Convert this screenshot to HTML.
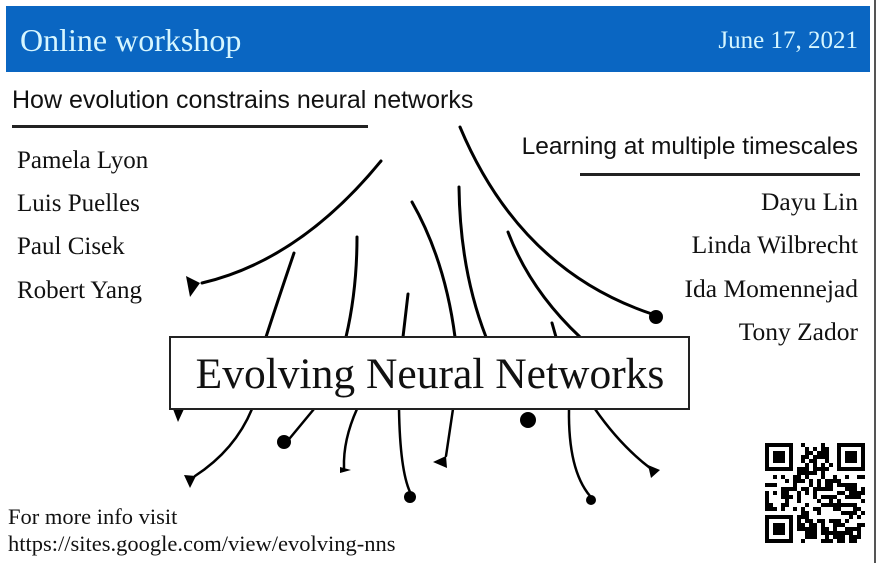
<!DOCTYPE html>
<html><head><meta charset="utf-8"><style>
body{margin:0;width:878px;height:563px;background:#fff;overflow:hidden;position:relative;font-family:"Liberation Serif",serif;}
.t{position:absolute;white-space:nowrap;color:#111;line-height:1;}
.s{font-family:"Liberation Sans",sans-serif;}
</style></head><body>
<div style="position:absolute;left:6px;top:6px;width:864px;height:66px;background:#0a66c2;"></div>
<div class="t" style="left:20px;top:24px;font-size:32px;color:#d6f6ff;">Online workshop</div>
<div class="t" style="right:20px;top:28px;font-size:25px;color:#d6f6ff;">June 17, 2021</div>
<div style="position:absolute;right:2px;top:0;width:2px;height:563px;background:#555;"></div>
<div class="t s" style="left:12px;top:88px;font-size:25px;">How evolution constrains neural networks</div>
<div style="position:absolute;left:12px;top:125px;width:356px;height:3px;background:#222;"></div>
<div class="t" style="left:17px;top:148px;font-size:25px;">Pamela Lyon</div>
<div class="t" style="left:17px;top:191px;font-size:25px;">Luis Puelles</div>
<div class="t" style="left:17px;top:234px;font-size:25px;">Paul Cisek</div>
<div class="t" style="left:17px;top:278px;font-size:25px;">Robert Yang</div>
<div class="t s" style="right:20px;top:135px;font-size:24.5px;">Learning at multiple timescales</div>
<div style="position:absolute;left:580px;top:173px;width:280px;height:3px;background:#222;"></div>
<div class="t" style="right:20px;top:189px;font-size:25.5px;">Dayu Lin</div>
<div class="t" style="right:20px;top:232px;font-size:25.5px;">Linda Wilbrecht</div>
<div class="t" style="right:20px;top:276px;font-size:25.5px;">Ida Momennejad</div>
<div class="t" style="right:20px;top:319px;font-size:25.5px;">Tony Zador</div>
<div class="t" style="left:8px;top:506px;font-size:22.5px;">For more info visit</div>
<div class="t" style="left:8px;top:533px;font-size:22.5px;">https://sites.google.com/view/evolving-nns</div>
<svg style="position:absolute;left:0;top:0" width="878" height="563">
<g fill="none" stroke="#000" stroke-width="3" stroke-linecap="round">
<path d="M381,161 Q300,260 202,283"/>
<path d="M294,253 Q278,300 266,337"/>
<path d="M357,237 Q357,290 346,337"/>
<path d="M408,294 L403,337"/>
<path d="M412,202 Q445,260 455,337"/>
<path d="M459,187 Q460,270 486,337"/>
<path d="M460,127 Q520,270 652,314"/>
<path d="M508,232 Q530,290 580,337"/>
<path d="M552,323 L556,337"/>
<path d="M252,409 Q235,450 195,476" stroke-width="2.5"/>
<path d="M314,409 L290,438" stroke-width="2.5"/>
<path d="M357,409 Q343,440 344,468" stroke-width="2.5"/>
<path d="M399,409 Q400,470 410,492" stroke-width="2.5"/>
<path d="M453,409 L446,456" stroke-width="2.5"/>
<path d="M569,409 Q568,470 590,496" stroke-width="2.5"/>
<path d="M595,409 Q620,445 650,468" stroke-width="2.5"/>
</g>
<g fill="#000">
<polygon points="186,276 200,283 190,297"/>
<circle cx="656" cy="317" r="7"/>
<polygon points="173,409 184,409 178,422"/>
<polygon points="184,475 196,476 190,488"/>
<circle cx="284" cy="442" r="7"/>
<polygon points="340,467 351,470 340,473"/>
<circle cx="410" cy="497" r="6"/>
<polygon points="433,462 446,456 447,468"/>
<circle cx="528" cy="420" r="8"/>
<circle cx="591" cy="500" r="5"/>
<polygon points="648,465 660,470 651,478"/>
</g>
<rect x="170" y="337" width="519" height="72" fill="#fff" stroke="#222" stroke-width="2"/>
<text x="430" y="388" text-anchor="middle" font-family="Liberation Serif,serif" font-size="43.5" fill="#111">Evolving Neural Networks</text>
<g id="qr" fill="#000"></g>
</svg>
<script>
(function(){var g=document.getElementById('qr');var x0=765,y0=443,m=4,N=25;var s=12345;
function r(){s=(s*1103515245+12345)%2147483648;return s/2147483648;}
function f(i,j){var fs=[[0,0],[18,0],[0,18]];for(var k=0;k<3;k++){var a=i-fs[k][0],b=j-fs[k][1];if(a>=-1&&a<=7&&b>=-1&&b<=7){if(a<0||b<0||a>6||b>6)return 0;if(a==0||b==0||a==6||b==6)return 1;if(a>=2&&a<=4&&b>=2&&b<=4)return 1;return 0;}}return null;}
var h='';for(var j=0;j<N;j++)for(var i=0;i<N;i++){var v=f(i,j);if(v===null)v=r()<0.5?1:0;if(v)h+='<rect x="'+(x0+i*m)+'" y="'+(y0+j*m)+'" width="'+m+'" height="'+m+'"/>';}
g.innerHTML=h;})();
</script>
</body></html>
